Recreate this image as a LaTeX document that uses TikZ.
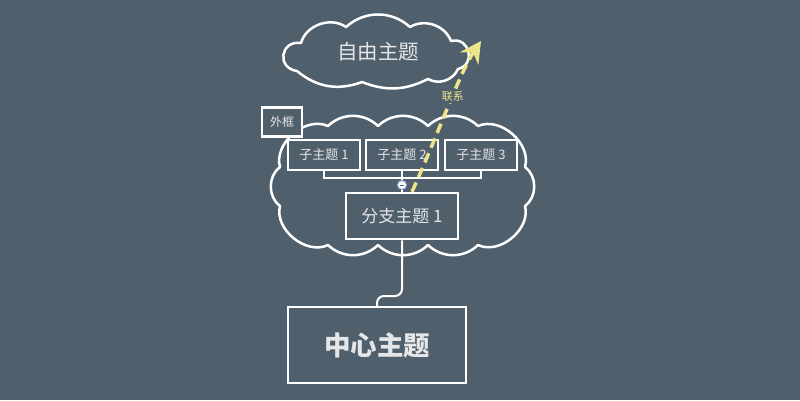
\documentclass[tikz,border=0pt]{standalone}
\usepackage{fontspec}
\newfontfamily\cjk{Noto Sans CJK SC}
\usetikzlibrary{arrows.meta, positioning}
\usepackage{xcolor}
\definecolor{bgslate}{HTML}{505F6C}
\definecolor{linkyellow}{HTML}{EEE58A}
\definecolor{topictext}{HTML}{E4E6E8}
\definecolor{foldblue}{HTML}{9AA8D8}

\begin{document}
\begin{tikzpicture}[x=1pt,y=-1pt,
    topic/.style={draw=white, line width=2.5pt, text=topictext, inner sep=0pt, font=\cjk\fontsize{13}{13}\selectfont},
    puffline/.style={draw=white, line width=2.5pt, line join=round},
    connector/.style={draw=white, line width=2pt},
    fold/.style={circle, fill=white, draw=foldblue, line width=1pt, minimum size=9pt, inner sep=0pt},
    relation/.style={draw=linkyellow, line width=3.5pt, dash pattern=on 10pt off 6pt}]
  % background of the map
  \fill[bgslate] (0,0) rectangle (800,400);
  \useasboundingbox (0,0) rectangle (800,400);

  % free topic cloud
  \draw[puffline] (297,71) to[bend left=90, looseness=1.9] (301,43) to[bend left=55] (346,27)
    to[bend left=42] (410,27) to[bend left=50] (451,41) to[bend left=90, looseness=1.7] (458,69)
    to[bend left=48] (428,79) to[bend left=24] (362,82) to[bend left=30] (297,71) -- cycle;
  \node[text=topictext, font=\cjk\fontsize{20.5}{20.5}\selectfont] (freetopic) at (378,52) {自由主题};

  % outer boundary of the branch
  \draw[puffline] (328,126) to[bend left=44] (378,126) to[bend left=44] (428,126) to[bend left=44] (478,126)
    to[bend left=65] (525,167) to[bend left=54] (525,206) to[bend left=65] (478,245)
    to[bend left=44] (428,245) to[bend left=44] (378,245) to[bend left=44] (328,245)
    to[bend left=65] (280,206) to[bend left=54] (280,167) to[bend left=65] (328,126) -- cycle;
  \node[topic, fill=bgslate, minimum width=40pt, minimum height=29pt, font=\cjk\fontsize{12}{12}\selectfont] (framelabel) at (282,122) {外框};

  % topics
  \node[topic, minimum width=178pt, minimum height=76pt, font=\cjk\bfseries\fontsize{26.5}{26.5}\selectfont] (central) at (377,345) {中心主题};
  \node[topic, minimum width=112pt, minimum height=46pt, font=\cjk\fontsize{17}{17}\selectfont] (branch) at (402,216) {分支主题 1};
  \node[topic, minimum width=72pt, minimum height=30pt] (sub1) at (324,155) {子主题 1};
  \node[topic, minimum width=72pt, minimum height=30pt] (sub2) at (402,155) {子主题 2};
  \node[topic, minimum width=72pt, minimum height=30pt] (sub3) at (481,155) {子主题 3};

  % connectors
  \coordinate (bracket) at (402,178);
  \coordinate (elbow) at (402,296);
  \node[fold] (collapse) at (402,185) {};
  \draw[connector] (sub1.south) |- (bracket) -| (sub3.south);
  \draw[connector] (sub2.south) -- (collapse.north);
  \draw[connector] (collapse.south) -- (branch.north);
  \draw[bgslate, line width=1pt] ([xshift=-2.2pt]collapse.center) -- ([xshift=2.2pt]collapse.center);
  \draw[connector, rounded corners=7pt] (branch.south) -- (elbow) -| (central.north);

  % relationship from branch to free topic
  \coordinate (linkend) at (481,41);
  \draw[relation, -{Stealth[length=21pt, width=22pt, inset=7pt]}, linkyellow]
    ([xshift=10pt]branch.north) .. controls (437,137) and (460,72) .. (linkend)
    node[pos=0.57, fill=bgslate, inner sep=1.5pt, text=linkyellow, font=\cjk\fontsize{11}{11}\selectfont] (linklabel) {联系};
\end{tikzpicture}
\end{document}
